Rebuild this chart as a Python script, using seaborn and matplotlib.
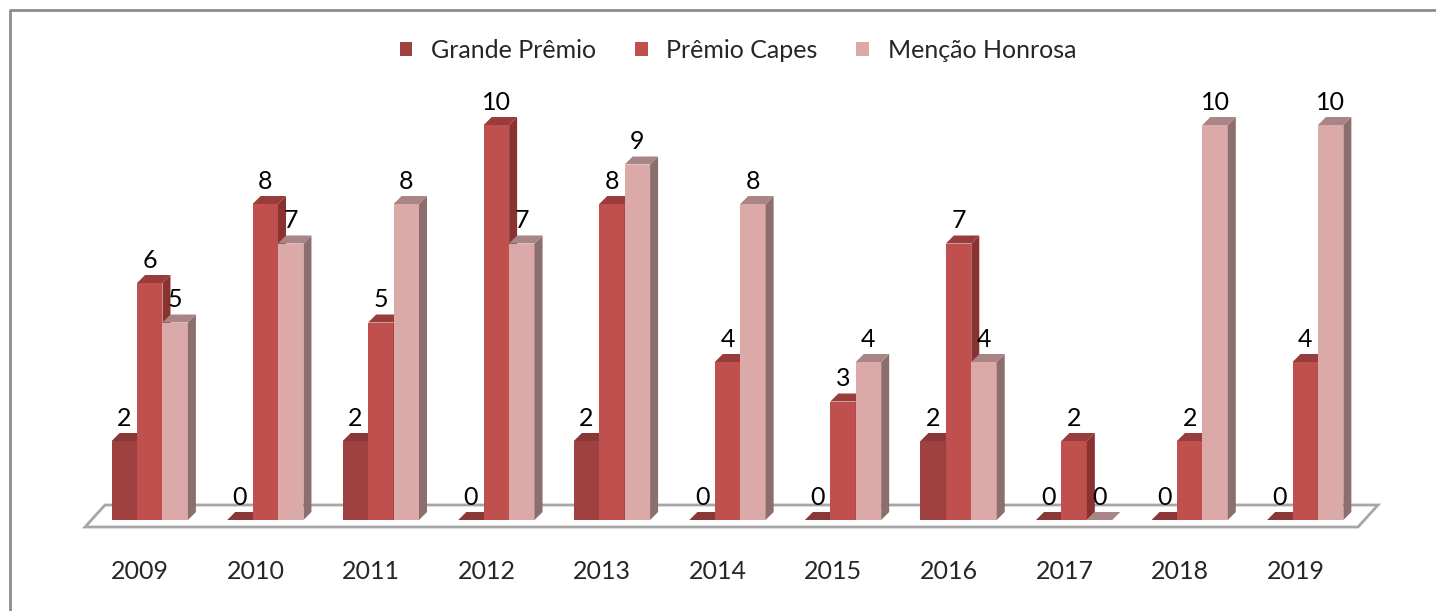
import numpy as np
import pandas as pd
import matplotlib
matplotlib.use("Agg")
import matplotlib.pyplot as plt
import matplotlib.transforms as mtransforms
from matplotlib.patches import Polygon
from matplotlib.lines import Line2D
import seaborn as sns

# data
anos = ["2009", "2010", "2011", "2012", "2013", "2014", "2015", "2016", "2017", "2018", "2019"]
grande_premio = [2, 0, 2, 0, 2, 0, 0, 2, 0, 0, 0]
premio_capes = [6, 8, 5, 10, 8, 4, 3, 7, 2, 2, 4]
mencao_honrosa = [5, 7, 8, 7, 9, 8, 4, 4, 0, 10, 10]
series_names = ["Grande Prêmio", "Prêmio Capes", "Menção Honrosa"]

front_colors = ["#9e4140", "#c0504d", "#dba9a8"]
side_colors = ["#7a2f2e", "#8a3230", "#8c6e6d"]
top_colors = ["#8a3837", "#983d3b", "#a98685"]

df = pd.DataFrame({
    "Ano": anos * 3,
    "Categoria": [series_names[0]] * len(anos) + [series_names[1]] * len(anos) + [series_names[2]] * len(anos),
    "Valor": grande_premio + premio_capes + mencao_honrosa,
})

sns.set_theme(style="white")
plt.rcParams["font.family"] = ["Lato", "DejaVu Sans"]

W, H = 1436, 611
fig = plt.figure(figsize=(W / 100, H / 100), dpi=100)
ax = fig.add_axes([92 / W, (H - 520) / H, 1271 / W, 434.5 / H])

sns.barplot(data=df, x="Ano", y="Valor", hue="Categoria", hue_order=series_names,
            palette=front_colors, saturation=1, width=0.66, ax=ax, legend=False)

ax.set_xlim(-0.5, len(anos) - 0.5)
ax.set_ylim(0, 11)

# pixel -> data conversion for the fake 3D depth
px_x = 1271 / (len(anos))
px_y = 434.5 / 11
dx = 8 / px_x
dy = 8 / px_y

for k, cont in enumerate(ax.containers):
    for i, bar in enumerate(cont.patches):
        x0 = bar.get_x()
        w = bar.get_width()
        h = bar.get_height()
        z = 2 + (i * 3 + k) * 0.001
        bar.set_zorder(z)
        bar.set_edgecolor("none")
        side = Polygon([(x0 + w, 0), (x0 + w + dx, dy), (x0 + w + dx, h + dy), (x0 + w, h)],
                       closed=True, facecolor=side_colors[k], edgecolor="none", zorder=z + 0.0001)
        top = Polygon([(x0, h), (x0 + w, h), (x0 + w + dx, h + dy), (x0 + dx, h + dy)],
                      closed=True, facecolor=top_colors[k], edgecolor="none", zorder=z + 0.0002)
        ax.add_patch(side)
        ax.add_patch(top)
        ax.text(x0 + w / 2, h + 0.57, f"{int(h)}", ha="center", va="center",
                fontsize=18, color="black", zorder=5)

# floor
fl = -0.5 - 7 / px_x
fr = len(anos) - 0.5 - 5 / px_x
back = 20 / px_x
floor = Polygon([(fl, -7 / px_y), (fr, -7 / px_y), (fr + back, 15 / px_y), (fl + back, 15 / px_y)],
                closed=True, facecolor="white", edgecolor="#a6a6a6", linewidth=2,
                zorder=1, clip_on=False)
ax.add_patch(floor)

ax.set_xlabel("")
ax.set_ylabel("")
ax.set_yticks([])
ax.tick_params(axis="x", length=0, pad=29, labelsize=18)
for lbl in ax.get_xticklabels():
    lbl.set_transform(lbl.get_transform() + mtransforms.ScaledTranslation(-7 / 72, 0, fig.dpi_scale_trans))
for s in ax.spines.values():
    s.set_visible(False)
ax.patch.set_alpha(0)

# legend
handles = [plt.Rectangle((0, 0), 1, 1, facecolor=c, edgecolor="none") for c in front_colors]
fig.legend(handles, series_names, loc="center", bbox_to_anchor=(0.514, 0.918), ncol=3,
           frameon=False, fontsize=18, handlelength=0.5, handleheight=0.5,
           handletextpad=0.75, columnspacing=1.55)

# outer chart frame
fig.add_artist(Line2D([10 / W, 10 / W, 1], [0, 1 - 10 / H, 1 - 10 / H],
                      color="#8c8c8c", linewidth=2, transform=fig.transFigure))

fig.savefig("out.png", dpi=100)
